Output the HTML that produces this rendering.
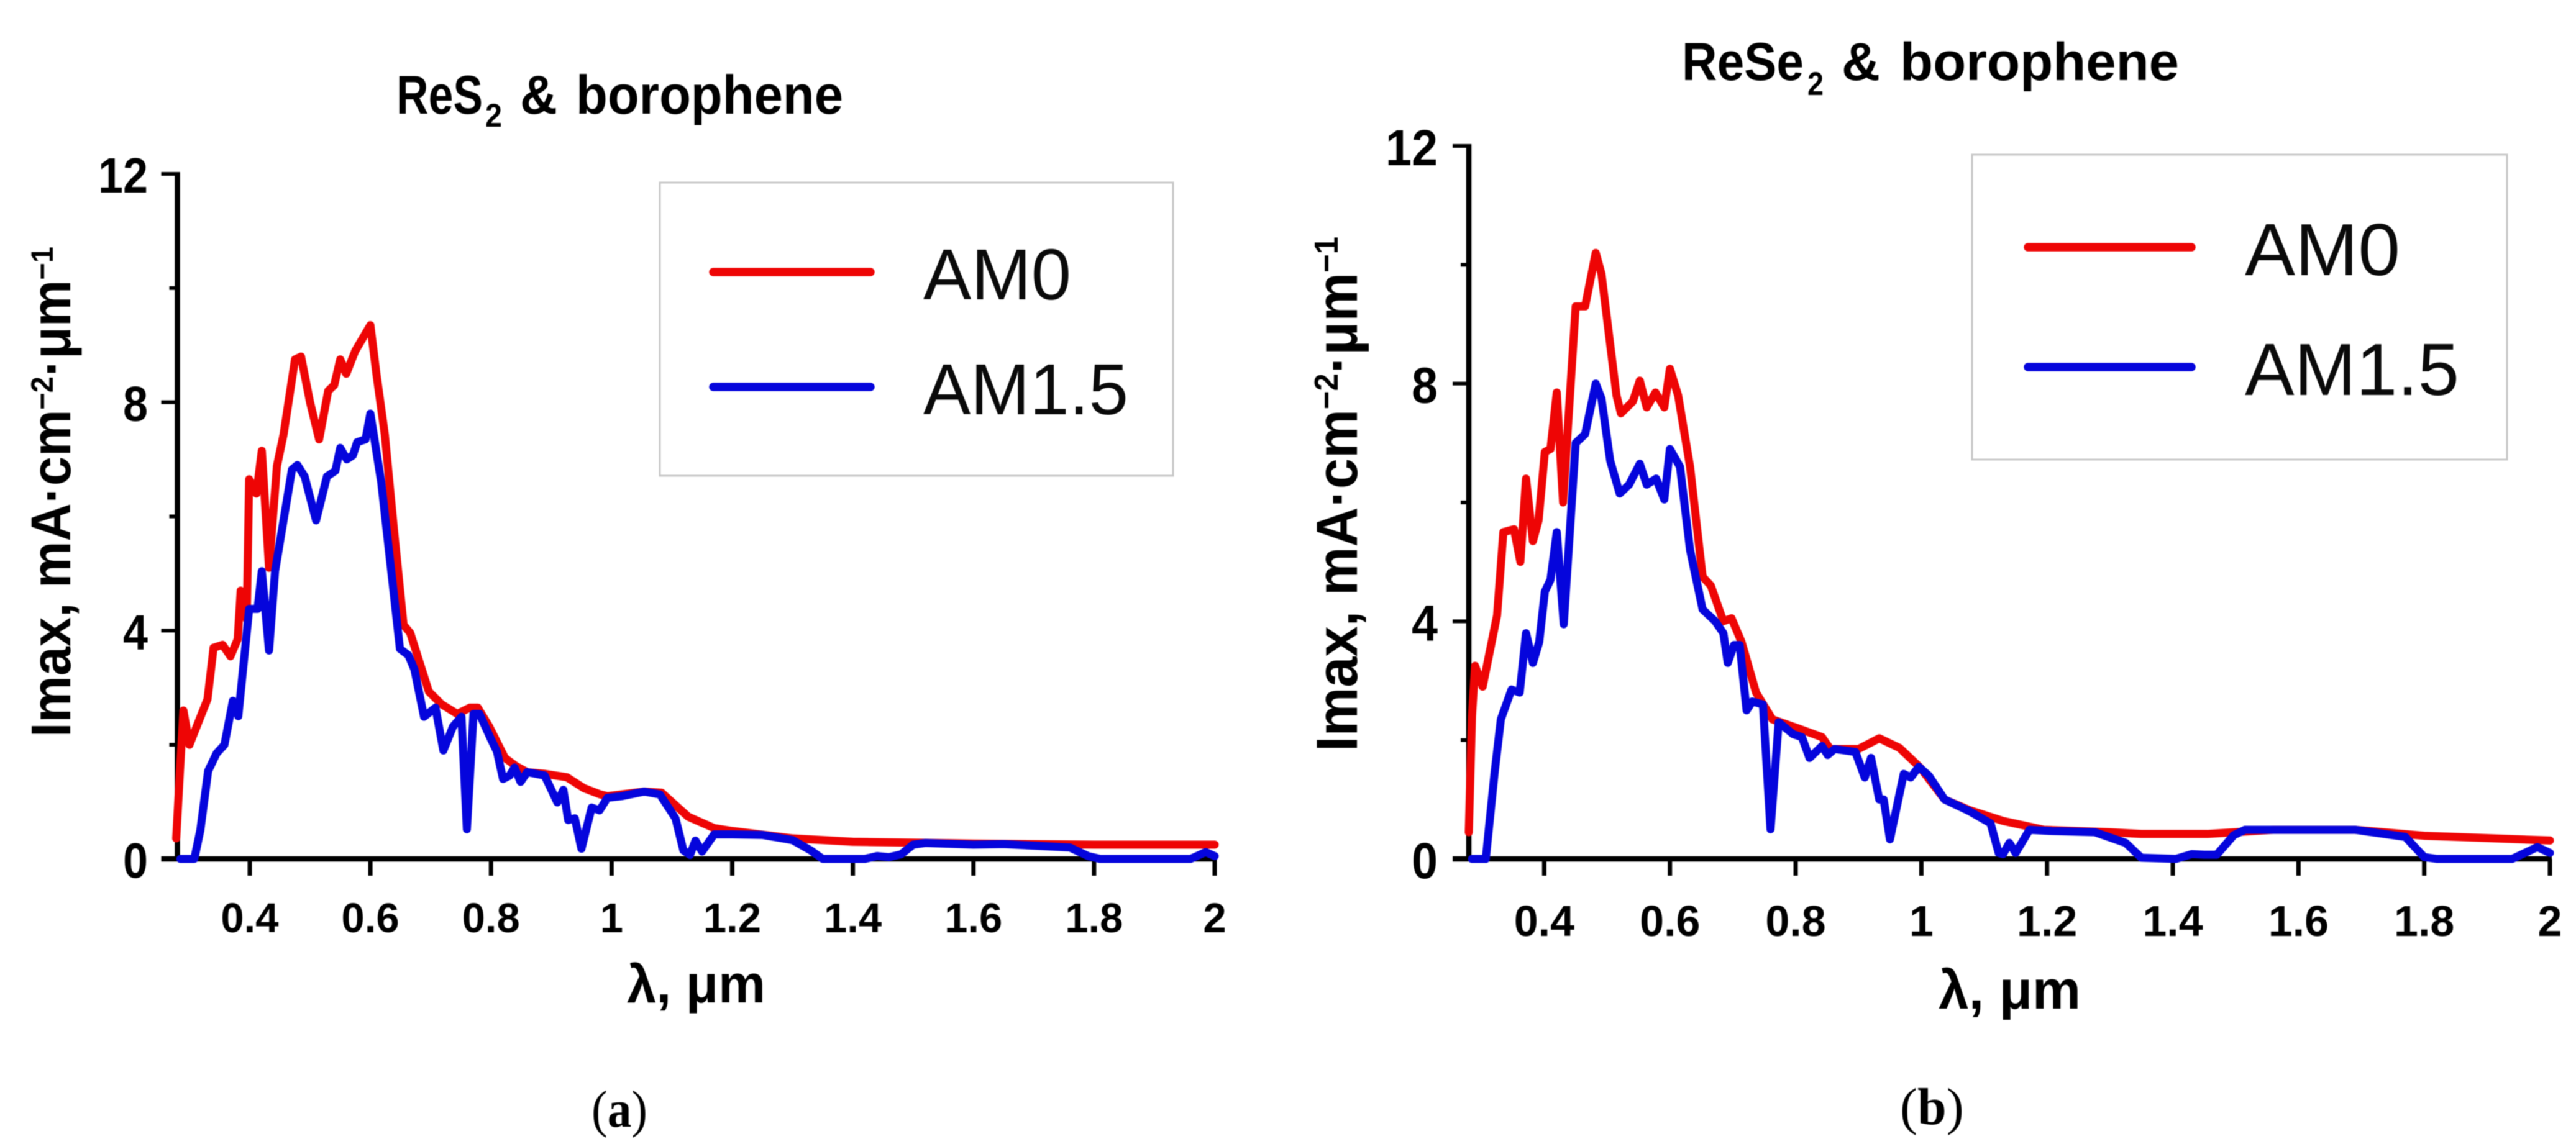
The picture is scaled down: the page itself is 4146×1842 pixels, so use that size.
<!DOCTYPE html>
<html lang="en">
<head>
<meta charset="utf-8">
<title>Imax spectra: ReS2 and ReSe2 with borophene</title>
<style>
html,body{margin:0;padding:0;background:#fff;width:4146px;height:1842px;overflow:hidden}
svg{display:block;filter:blur(0.8px)}
text{font-family:"Liberation Sans",sans-serif;fill:#000}
.b{font-weight:700}
.tick{font-weight:700}
.leg{fill:#0a0a0a}
.cap{font-family:"Liberation Serif",serif;font-size:84px}
</style>
</head>
<body>
<svg id="figure" xmlns="http://www.w3.org/2000/svg" width="4146" height="1842" viewBox="0 0 4146 1842">
  <rect width="4146" height="1842" fill="#fff"/>

  <g id="panel-a">
    <g>
      <text class="b" x="638" y="183" font-size="88" textLength="139" lengthAdjust="spacingAndGlyphs">ReS</text>
      <text class="b" x="781" y="204" font-size="53" textLength="27" lengthAdjust="spacingAndGlyphs">2</text>
      <text class="b" x="837" y="183" font-size="88" textLength="60" lengthAdjust="spacingAndGlyphs">&amp;</text>
      <text class="b" x="927" y="183" font-size="88" textLength="430" lengthAdjust="spacingAndGlyphs">borophene</text>
    </g>
    <text class="b" transform="translate(113 1187) rotate(-90)" font-size="90" textLength="790" lengthAdjust="spacingAndGlyphs">Imax, mA·cm<tspan font-size="50" dy="-28">−2</tspan><tspan dy="28">·μm</tspan><tspan font-size="50" dy="-28">−1</tspan></text>
    <text class="b" x="1009" y="1614" font-size="86" textLength="223" lengthAdjust="spacingAndGlyphs">λ, μm</text>
    <g id="plot-a"></g>
    <rect x="1062" y="294" width="826" height="472" fill="none" stroke="#c8c8c8" stroke-width="3"/>
    <line x1="1148" y1="438" x2="1401" y2="438" stroke="#ee0505" stroke-width="13.5" stroke-linecap="round"/>
    <line x1="1148" y1="623" x2="1401" y2="623" stroke="#0505dc" stroke-width="13.5" stroke-linecap="round"/>
    <text class="leg" x="1486" y="482" font-size="116" textLength="238" lengthAdjust="spacingAndGlyphs">AM0</text>
    <text class="leg" x="1486" y="667" font-size="116" textLength="330" lengthAdjust="spacingAndGlyphs">AM1.5</text>
    <text class="cap" x="952" y="1814" textLength="90" lengthAdjust="spacingAndGlyphs">(<tspan font-weight="700">a</tspan>)</text>
  </g>

  <g id="panel-b">
    <g>
      <text class="b" x="2707" y="129" font-size="86" textLength="196" lengthAdjust="spacingAndGlyphs">ReSe</text>
      <text class="b" x="2909" y="153" font-size="53" textLength="26" lengthAdjust="spacingAndGlyphs">2</text>
      <text class="b" x="2964" y="129" font-size="86" textLength="62" lengthAdjust="spacingAndGlyphs">&amp;</text>
      <text class="b" x="3058" y="129" font-size="86" textLength="449" lengthAdjust="spacingAndGlyphs">borophene</text>
    </g>
    <text class="b" transform="translate(2184 1210) rotate(-90)" font-size="94" textLength="829" lengthAdjust="spacingAndGlyphs">Imax, mA·cm<tspan font-size="54" dy="-31">−2</tspan><tspan dy="31">·μm</tspan><tspan font-size="54" dy="-31">−1</tspan></text>
    <text class="b" x="3120" y="1624" font-size="88" textLength="229" lengthAdjust="spacingAndGlyphs">λ, μm</text>
    <g id="plot-b"></g>
    <rect x="3174" y="249" width="861" height="491" fill="none" stroke="#c8c8c8" stroke-width="3"/>
    <line x1="3264" y1="398" x2="3527" y2="398" stroke="#ee0505" stroke-width="13.5" stroke-linecap="round"/>
    <line x1="3264" y1="591" x2="3527" y2="591" stroke="#0505dc" stroke-width="13.5" stroke-linecap="round"/>
    <text class="leg" x="3613" y="443" font-size="119" textLength="250" lengthAdjust="spacingAndGlyphs">AM0</text>
    <text class="leg" x="3613" y="636" font-size="119" textLength="345" lengthAdjust="spacingAndGlyphs">AM1.5</text>
    <text class="cap" x="3058" y="1810">(<tspan font-weight="700">b</tspan>)</text>
  </g>
</svg>

<script>
// Shared axis values
const xTickValues = [0.4, 0.6, 0.8, 1, 1.2, 1.4, 1.6, 1.8, 2];
const xTickLabels = ["0.4", "0.6", "0.8", "1", "1.2", "1.4", "1.6", "1.8", "2"];
const yMajorValues = [0, 4, 8, 12];
const yMajorLabels = ["0", "4", "8", "12"];
const yMinorValues = [2, 6, 10];

// Panel (a): ReS2 & borophene, AM0
const resLambdaAm0 = [0.278,0.284,0.29,0.3,0.33,0.34,0.355,0.368,0.38,0.385,0.395,0.399,0.411,0.42,0.432,0.445,0.456,0.475,0.485,0.5,0.515,0.53,0.54,0.55,0.56,0.575,0.6,0.61,0.624,0.639,0.655,0.666,0.697,0.718,0.744,0.765,0.778,0.797,0.823,0.841,0.86,0.889,0.926,0.954,0.981,0.993,1.054,1.083,1.127,1.17,1.2,1.3,1.4,1.6,1.8,2];
const resImaxAm0 = [0.36,1.5,2.6,2.0,2.8,3.7,3.75,3.55,3.85,4.7,4.2,6.65,6.4,7.15,5.1,6.88,7.43,8.75,8.8,8.0,7.35,8.2,8.3,8.75,8.5,8.9,9.35,8.5,7.43,5.77,4.1,3.96,2.93,2.71,2.54,2.65,2.65,2.32,1.77,1.63,1.52,1.49,1.43,1.24,1.13,1.1,1.18,1.16,0.74,0.54,0.49,0.36,0.3,0.27,0.25,0.25];

// Panel (a): ReS2 & borophene, AM1.5
const resLambdaAm15 = [0.285,0.308,0.318,0.331,0.345,0.358,0.372,0.381,0.399,0.413,0.42,0.432,0.442,0.47,0.479,0.491,0.51,0.528,0.542,0.55,0.561,0.571,0.578,0.592,0.6,0.618,0.634,0.649,0.663,0.673,0.689,0.708,0.721,0.737,0.751,0.76,0.771,0.781,0.8,0.81,0.82,0.831,0.839,0.849,0.86,0.889,0.91,0.92,0.928,0.939,0.95,0.967,0.98,0.993,1.017,1.054,1.08,1.106,1.119,1.13,1.139,1.15,1.17,1.2,1.25,1.3,1.33,1.35,1.42,1.44,1.46,1.48,1.5,1.52,1.6,1.65,1.76,1.79,1.81,1.96,1.985,2];
const resImaxAm15 = [0,0,0.5,1.54,1.85,2.0,2.77,2.5,4.38,4.38,5.04,3.65,5.04,6.82,6.9,6.7,5.93,6.7,6.8,7.2,7.0,7.07,7.3,7.35,7.8,6.6,5.1,3.68,3.57,3.32,2.49,2.65,1.9,2.32,2.49,0.52,2.54,2.54,2.1,1.88,1.4,1.46,1.6,1.35,1.52,1.46,0.99,1.21,0.68,0.71,0.18,0.9,0.85,1.07,1.1,1.18,1.13,0.71,0.15,0.07,0.32,0.13,0.43,0.43,0.42,0.33,0.15,0,0,0.05,0.03,0.08,0.25,0.28,0.25,0.26,0.2,0.05,0,0,0.12,0.05];

// Panel (b): ReSe2 & borophene, AM0
const reseLambdaAm0 = [0.28,0.285,0.29,0.302,0.325,0.335,0.352,0.362,0.371,0.382,0.391,0.401,0.41,0.42,0.43,0.45,0.465,0.482,0.491,0.515,0.522,0.541,0.552,0.563,0.577,0.591,0.6,0.613,0.632,0.652,0.665,0.685,0.698,0.714,0.737,0.763,0.803,0.842,0.855,0.9,0.933,0.965,0.998,1.037,1.077,1.13,1.195,1.3,1.35,1.455,1.56,1.69,1.8,2];
const reseImaxAm0 = [0.45,2.4,3.25,2.9,4.1,5.5,5.55,5.0,6.4,5.35,5.7,6.85,6.9,7.85,6.0,9.3,9.3,10.2,9.85,7.8,7.5,7.7,8.05,7.6,7.85,7.6,8.25,7.8,6.6,4.75,4.6,4.0,4.05,3.65,2.8,2.35,2.2,2.05,1.85,1.85,2.03,1.87,1.54,1.0,0.82,0.64,0.49,0.45,0.42,0.42,0.49,0.49,0.39,0.31];

// Panel (b): ReSe2 & borophene, AM1.5
const reseLambdaAm15 = [0.285,0.307,0.321,0.331,0.348,0.361,0.371,0.382,0.392,0.401,0.41,0.42,0.431,0.45,0.465,0.482,0.491,0.505,0.52,0.535,0.552,0.563,0.578,0.591,0.6,0.616,0.632,0.652,0.672,0.685,0.692,0.702,0.711,0.722,0.731,0.748,0.76,0.773,0.796,0.81,0.822,0.842,0.851,0.862,0.895,0.91,0.92,0.933,0.94,0.95,0.972,0.983,0.996,1.012,1.037,1.077,1.11,1.123,1.13,1.14,1.15,1.172,1.205,1.276,1.325,1.35,1.405,1.43,1.45,1.47,1.497,1.515,1.6,1.69,1.77,1.8,1.82,1.94,1.98,2];
const reseImaxAm15 = [0,0,1.45,2.35,2.85,2.8,3.8,3.3,3.65,4.5,4.7,5.5,3.95,7.0,7.15,8.0,7.75,6.7,6.15,6.3,6.65,6.3,6.4,6.05,6.9,6.6,5.2,4.2,4.0,3.8,3.3,3.6,3.6,2.5,2.65,2.6,0.5,2.3,2.1,2.05,1.7,1.9,1.75,1.85,1.8,1.37,1.7,1.0,1.0,0.33,1.43,1.37,1.55,1.4,1.0,0.8,0.6,0.1,0.08,0.27,0.1,0.49,0.47,0.45,0.27,0.02,0,0.08,0.07,0.07,0.4,0.49,0.49,0.49,0.37,0.03,0,0,0.2,0.1];

const SVG_NS = "http://www.w3.org/2000/svg";
const X_MIN = 0.28, X_MAX = 2, Y_MIN = 0, Y_MAX = 12;

function svgEl(tag, parent) {
  const el = document.createElementNS(SVG_NS, tag);
  parent.appendChild(el);
  return el;
}

function makeScale(domainA, domainB, rangeA, rangeB) {
  return function (v) {
    return rangeA + (v - domainA) / (domainB - domainA) * (rangeB - rangeA);
  };
}

function drawSeries(parent, xs, ys, xScale, yScale, color, name) {
  const n = Math.min(xs.length, ys.length);
  let d = "";
  for (let i = 0; i < n; i++) {
    d += (i ? "L" : "M") + xScale(xs[i]).toFixed(1) + " " + yScale(ys[i]).toFixed(1);
  }
  const path = svgEl("path", parent);
  path.setAttribute("d", d);
  path.setAttribute("fill", "none");
  path.setAttribute("stroke", color);
  path.setAttribute("stroke-width", "13");
  path.setAttribute("stroke-linejoin", "round");
  path.setAttribute("stroke-linecap", "round");
  
  
}

function drawAxes(parent, xScale, yScale, g) {
  const axisBottom = yScale(0), axisLeft = xScale(X_MIN);

  xTickValues.forEach(function (v, i) {
    const tick = svgEl("line", parent);
    tick.setAttribute("x1", xScale(v));
    tick.setAttribute("x2", xScale(v));
    tick.setAttribute("y1", axisBottom);
    tick.setAttribute("y2", axisBottom + 27);
    tick.setAttribute("stroke", "#000");
    tick.setAttribute("stroke-width", "7");
    
    

    const label = svgEl("text", parent);
    label.setAttribute("class", "tick");
    label.setAttribute("font-size", g.xLabelSize);
    label.setAttribute("x", xScale(v));
    label.setAttribute("y", g.xLabelBaseline);
    label.setAttribute("text-anchor", "middle");
    
    
    label.textContent = xTickLabels[i];
  });

  yMajorValues.forEach(function (v, i) {
    const tick = svgEl("line", parent);
    tick.setAttribute("x1", axisLeft - 26);
    tick.setAttribute("x2", axisLeft);
    tick.setAttribute("y1", yScale(v));
    tick.setAttribute("y2", yScale(v));
    tick.setAttribute("stroke", "#000");
    tick.setAttribute("stroke-width", "6");
    
    

    const label = svgEl("text", parent);
    label.setAttribute("class", "tick");
    label.setAttribute("font-size", g.yLabelSize);
    label.setAttribute("x", g.yLabelRight);
    label.setAttribute("y", yScale(v) + g.yLabelDrop);
    label.setAttribute("text-anchor", "end");
    label.setAttribute("textLength", yMajorLabels[i].length * g.yDigitWidth);
    label.setAttribute("lengthAdjust", "spacingAndGlyphs");
    
    
    label.textContent = yMajorLabels[i];
  });

  yMinorValues.forEach(function (v) {
    const tick = svgEl("line", parent);
    tick.setAttribute("x1", axisLeft - 13);
    tick.setAttribute("x2", axisLeft);
    tick.setAttribute("y1", yScale(v));
    tick.setAttribute("y2", yScale(v));
    tick.setAttribute("stroke", "#000");
    tick.setAttribute("stroke-width", "6");
    
    
  });

  const yAxis = svgEl("line", parent);
  yAxis.setAttribute("x1", axisLeft);
  yAxis.setAttribute("x2", axisLeft);
  yAxis.setAttribute("y1", yScale(Y_MAX) - 3);
  yAxis.setAttribute("y2", axisBottom + 4);
  yAxis.setAttribute("stroke", "#000");
  yAxis.setAttribute("stroke-width", "8.5");
  
  

  const xAxis = svgEl("line", parent);
  xAxis.setAttribute("x1", axisLeft - 26);
  xAxis.setAttribute("x2", xScale(X_MAX) + 3);
  xAxis.setAttribute("y1", axisBottom);
  xAxis.setAttribute("y2", axisBottom);
  xAxis.setAttribute("stroke", "#000");
  xAxis.setAttribute("stroke-width", "8.5");
  
  
}

function drawPanel(g) {
  const parent = document.getElementById(g.id);
  const xScale = makeScale(X_MIN, X_MAX, g.left, g.right);
  const yScale = makeScale(Y_MIN, Y_MAX, g.bottom, g.top);
  drawAxes(parent, xScale, yScale, g);
  drawSeries(parent, g.am0X, g.am0Y, xScale, yScale, "#ee0505", "series-am0");
  drawSeries(parent, g.am15X, g.am15Y, xScale, yScale, "#0505dc", "series-am15");
}

drawPanel({
  id: "plot-a", left: 285.5, right: 1955, top: 280, bottom: 1383,
  xLabelBaseline: 1501, xLabelSize: 67, yLabelRight: 238, yLabelSize: 80, yLabelDrop: 30, yDigitWidth: 40,
  am0X: resLambdaAm0, am0Y: resImaxAm0, am15X: resLambdaAm15, am15Y: resImaxAm15
});
drawPanel({
  id: "plot-b", left: 2364, right: 4104, top: 235, bottom: 1383,
  xLabelBaseline: 1507, xLabelSize: 70, yLabelRight: 2314, yLabelSize: 82, yLabelDrop: 31, yDigitWidth: 42,
  am0X: reseLambdaAm0, am0Y: reseImaxAm0, am15X: reseLambdaAm15, am15Y: reseImaxAm15
});
</script>
</body>
</html>
